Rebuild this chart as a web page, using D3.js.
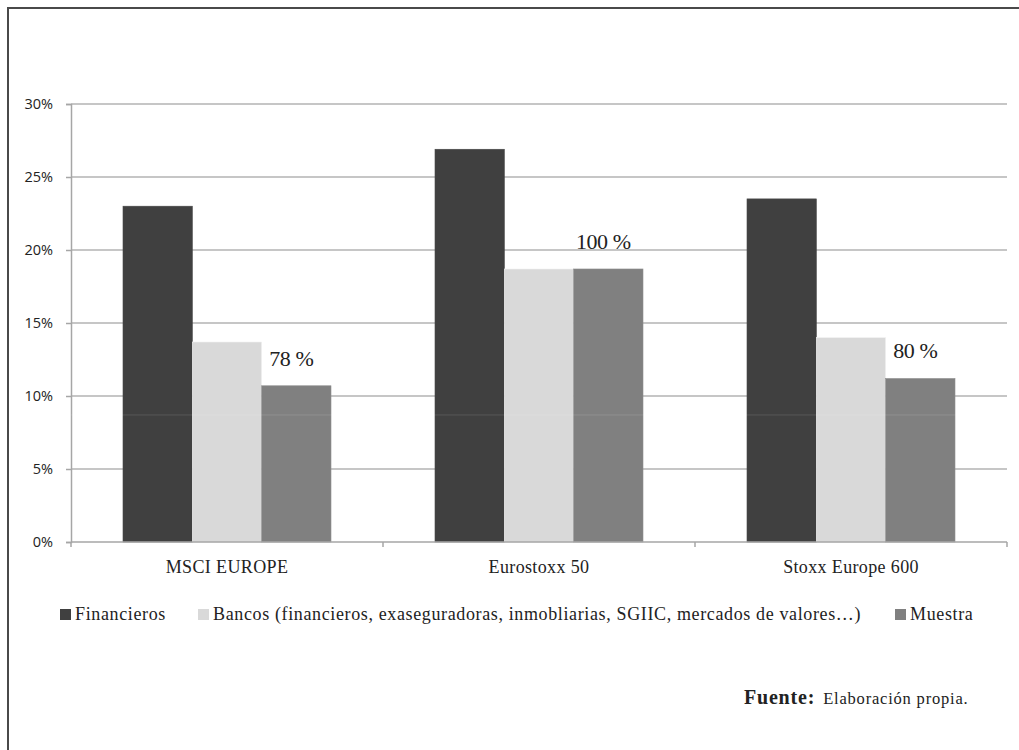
<!DOCTYPE html>
<html>
<head>
<meta charset="utf-8">
<script src="https://cdn.jsdelivr.net/npm/d3@7"></script>
<style>
  body { margin: 0; background: #fff; }
  svg { display: block; }
</style>
</head>
<body>
<div id="chart"></div>
<script>
// Chart data
const categories = ["MSCI EUROPE", "Eurostoxx 50", "Stoxx Europe 600"];
const seriesNames = ["Financieros", "Bancos (financieros, exaseguradoras, inmobliarias, SGIIC, mercados de valores…)", "Muestra"];
const financieros = [0.230, 0.269, 0.235];
const bancos = [0.137, 0.187, 0.140];
const muestra = [0.107, 0.187, 0.112];
const muestraLabels = ["78 %", "100 %", "80 %"];
const yTicks = [0, 0.05, 0.10, 0.15, 0.20, 0.25, 0.30];

const seriesValues = [financieros, bancos, muestra];
const colors = ["#404040", "#d9d9d9", "#808080"];
const serif = "'Liberation Serif', 'DejaVu Serif', serif";
const sans = "'Open Sans', 'Liberation Sans', sans-serif";

const width = 1019, height = 750;
const svg = d3.select("#chart").append("svg")
    .attr("width", width)
    .attr("height", height);

// Frame (left and top border)
svg.append("path")
    .attr("d", "M8,750 L8,8 L1019,8")
    .attr("fill", "none")
    .attr("stroke", "#4a4a4a")
    .attr("stroke-width", 2);

const plot = { left: 71, right: 1007, top: 104, bottom: 542 };

const x0 = d3.scaleBand()
    .domain(categories)
    .range([plot.left, plot.right]);

const x1 = d3.scaleBand()
    .domain(d3.range(seriesNames.length))
    .range([0, x0.bandwidth()])
    .paddingOuter(0.75);

const y = d3.scaleLinear()
    .domain([0, 0.30])
    .range([plot.bottom, plot.top]);

// Gridlines
svg.append("g")
    .selectAll("line")
    .data(yTicks.slice(1))
    .join("line")
    .attr("x1", plot.left)
    .attr("x2", plot.right)
    .attr("y1", d => y(d))
    .attr("y2", d => y(d))
    .attr("stroke", "#b3b3b3")
    .attr("stroke-width", 1.5);

// Y axis
const yAxis = svg.append("g")
    .attr("transform", `translate(${plot.left},0)`)
    .call(d3.axisLeft(y).tickValues(yTicks).tickFormat(d3.format(".0%")).tickSize(5).tickPadding(13));
yAxis.select(".domain").attr("stroke", "#a6a6a6").attr("stroke-width", 1.5);
yAxis.selectAll(".tick line").attr("stroke", "#a6a6a6").attr("stroke-width", 1.5);
yAxis.selectAll(".tick text")
    .attr("font-family", sans)
    .attr("font-size", 14.5)
    .attr("fill", "#222");

// Bars
const groups = svg.append("g")
    .selectAll("g")
    .data(categories)
    .join("g")
    .attr("transform", d => `translate(${x0(d)},0)`);

groups.selectAll("rect")
    .data((d, i) => seriesValues.map((vals, s) => ({ s, v: vals[i] })))
    .join("rect")
    .attr("x", d => x1(d.s))
    .attr("width", x1.bandwidth())
    .attr("y", d => y(d.v))
    .attr("height", d => y(0) - y(d.v))
    .attr("fill", d => colors[d.s])
    .attr("stroke", d => d3.color(colors[d.s]).brighter(0.3))
    .attr("stroke-width", 0.6);

// Faint scan line across the bars
svg.append("line")
    .attr("x1", plot.left)
    .attr("x2", plot.right)
    .attr("y1", y(0.087))
    .attr("y2", y(0.087))
    .attr("stroke", "#fff")
    .attr("stroke-opacity", 0.12)
    .attr("stroke-width", 1);

// X axis
const xAxis = svg.append("g")
    .attr("transform", `translate(0,${plot.bottom})`);
xAxis.append("line")
    .attr("x1", plot.left)
    .attr("x2", plot.right)
    .attr("stroke", "#a6a6a6")
    .attr("stroke-width", 1.5);
xAxis.selectAll("line.tick")
    .data(categories.map(c => x0(c)).concat([plot.right]))
    .join("line")
    .attr("class", "tick")
    .attr("x1", d => d)
    .attr("x2", d => d)
    .attr("y1", 0)
    .attr("y2", 5)
    .attr("stroke", "#a6a6a6")
    .attr("stroke-width", 1.5);
xAxis.selectAll("text")
    .data(categories)
    .join("text")
    .attr("x", d => x0(d) + x0.bandwidth() / 2)
    .attr("y", 31)
    .attr("text-anchor", "middle")
    .attr("font-family", serif)
    .attr("font-size", 18)
    .attr("letter-spacing", "0.02em")
    .attr("fill", "#222")
    .text(d => d);

// Muestra labels
svg.append("g")
    .selectAll("text")
    .data(categories)
    .join("text")
    .attr("x", (d, i) => x0(d) + x1(2) + x1.bandwidth() / 2 - 5)
    .attr("y", (d, i) => y(muestra[i]) - 20)
    .attr("text-anchor", "middle")
    .attr("font-family", serif)
    .attr("font-size", 22)
    .attr("letter-spacing", "-0.02em")
    .attr("fill", "#222")
    .text((d, i) => muestraLabels[i]);

// Legend
const legendPos = [60, 198, 895];
const legend = svg.append("g")
    .selectAll("g")
    .data(seriesNames)
    .join("g")
    .attr("transform", (d, i) => `translate(${legendPos[i]},609)`);
legend.append("rect")
    .attr("width", 11)
    .attr("height", 11)
    .attr("fill", (d, i) => colors[i]);
legend.append("text")
    .attr("x", 15)
    .attr("y", 10.5)
    .attr("font-family", serif)
    .attr("font-size", 18)
    .attr("letter-spacing", "0.035em")
    .attr("fill", "#222")
    .text(d => d);

// Source note
const note = svg.append("text")
    .attr("x", 744)
    .attr("y", 704)
    .attr("font-family", serif)
    .attr("letter-spacing", "0.05em")
    .attr("fill", "#222");
note.append("tspan")
    .attr("font-weight", "bold")
    .attr("font-size", 20)
    .text("Fuente:");
note.append("tspan")
    .attr("dx", 8)
    .attr("font-size", 16.5)
    .text("Elaboración propia.");
</script>
</body>
</html>
